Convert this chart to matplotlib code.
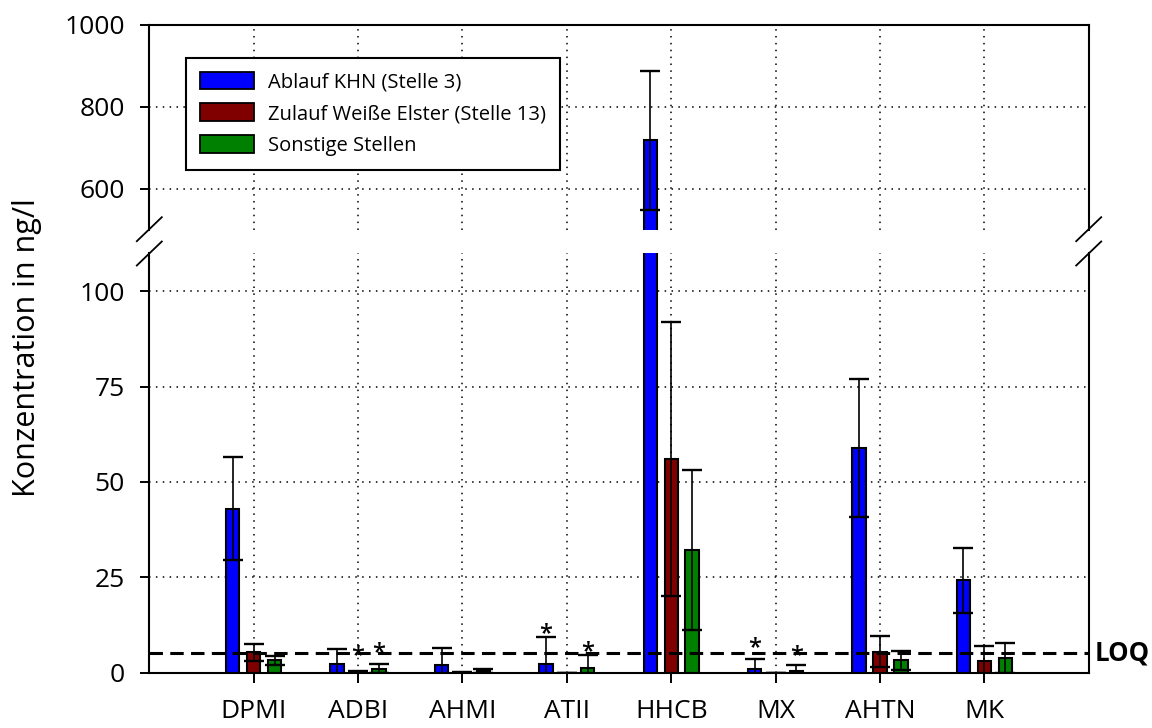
import numpy as np
import matplotlib
matplotlib.use("Agg")
import matplotlib.pyplot as plt
from matplotlib.lines import Line2D

plt.rcParams["font.family"] = ["Open Sans", "DejaVu Sans"]

categories = ["DPMI", "ADBI", "AHMI", "ATII", "HHCB", "MX", "AHTN", "MK"]
series_names = ["Ablauf KHN (Stelle 3)",
                "Zulauf Weiße Elster (Stelle 13)",
                "Sonstige Stellen"]
ablauf = [43.0, 2.4, 1.9, 2.2, 719.0, 0.9, 59.0, 24.2]
ablauf_sd = [13.5, 3.9, 4.5, 7.1, 170.0, 2.6, 18.1, 8.5]
zulauf = [5.3, 0.3, 0.1, 0.0, 56.0, 0.0, 5.5, 3.1]
zulauf_sd = [2.2, 0.2, 0.1, 0.0, 36.0, 0.0, 4.1, 4.0]
sonstige = [3.2, 1.1, 0.5, 1.2, 32.2, 0.5, 3.2, 3.9]
sonstige_sd = [1.3, 1.3, 0.5, 3.5, 21.0, 1.4, 2.6, 3.9]
colors = ["#0000ff", "#800000", "#008000"]
loq = 5.1

# (category index, series index, height of the asterisk centre)
stars = [(1, 1, 6.0), (1, 2, 6.8), (3, 0, 11.7), (3, 2, 7.2), (5, 0, 8.1), (5, 2, 6.0)]

values = [ablauf, zulauf, sonstige]
errors = [ablauf_sd, zulauf_sd, sonstige_sd]

W, H = 1152, 728
fig = plt.figure(figsize=(W / 100, H / 100), dpi=100)
left, right = 149.3 / W, 1088.7 / W
ax_top = fig.add_axes([left, 1 - 230 / H, right - left, 205 / H])
ax_bot = fig.add_axes([left, 1 - 672.7 / H, right - left, (672.7 - 253) / H])

x = np.arange(len(categories))
offsets = [-0.2, 0.0, 0.2]
width = 0.128
grid_ls = (0, (1, 3.5))

for ax in (ax_top, ax_bot):
    for vals, sd, off, col in zip(values, errors, offsets, colors):
        ax.bar(x + off, vals, width, color=col, edgecolor="black", linewidth=1.5, zorder=2)
        ax.errorbar(x + off, vals, yerr=sd, fmt="none", ecolor="black",
                    elinewidth=1.2, capsize=7.2, capthick=1.7, zorder=3)
    ax.set_xlim(-1, len(categories))
    ax.set_xticks(x)
    ax.grid(True, linestyle=grid_ls, color="black", linewidth=1.1)
    ax.set_axisbelow(True)
    for sp in ax.spines.values():
        sp.set_linewidth(1.5)
    ax.tick_params(axis="y", direction="out", length=6.7, width=1.4,
                   labelsize=19, pad=11)

ax_top.set_ylim(500, 1000)
ax_top.set_yticks([600, 800, 1000])
ax_top.spines["bottom"].set_visible(False)
ax_top.tick_params(axis="x", length=0, labelbottom=False)

ax_bot.set_ylim(0, 110)
ax_bot.set_yticks([0, 25, 50, 75, 100])
ax_bot.spines["top"].set_visible(False)
ax_bot.set_xticklabels(categories)
ax_bot.tick_params(axis="x", direction="out", length=7.2, width=1.4,
                   labelsize=19, pad=12)

# LOQ line and label
ax_bot.axhline(loq, color="black", linewidth=2.2, dashes=(4.4, 2.4), zorder=4)
ax_bot.text(1.006, loq, "LOQ", transform=ax_bot.get_yaxis_transform(),
            ha="left", va="center", fontsize=18.5, fontweight="bold")

# asterisks
for ci, si, yy in stars:
    ax_bot.annotate("*", (x[ci] + offsets[si], yy), xytext=(0, -9), textcoords="offset points",
                    ha="center", va="baseline", fontsize=17, fontweight="semibold")

# break marks on both sides
def break_mark(xc, yc):
    dx, dy = 12.5, 12
    fig.add_artist(Line2D([(xc - dx) / W, (xc + dx) / W],
                          [1 - (yc + dy) / H, 1 - (yc - dy) / H],
                          color="black", linewidth=1.3))

for xc in (149.3, 1088.7):
    break_mark(xc, 229.2)
    break_mark(xc, 253.5)

handles = [plt.Rectangle((0, 0), 1, 1, facecolor=c, edgecolor="black", linewidth=1.3) for c in colors]
leg = ax_top.legend(handles, series_names, loc="upper left",
                    bbox_to_anchor=(186 / W, 1 - 57.7 / H), bbox_transform=fig.transFigure,
                    borderaxespad=0, fancybox=False, framealpha=1, edgecolor="black",
                    prop={"size": 14.5}, handlelength=2.7, handleheight=0.95,
                    handletextpad=0.65, labelspacing=0.55, borderpad=0.7)
leg.get_frame().set_linewidth(1.5)

fig.text(27 / W, 1 - 348 / H, "Konzentration in ng/l", rotation=90,
         ha="center", va="center", fontsize=22)

fig.savefig("out.png", dpi=100)
